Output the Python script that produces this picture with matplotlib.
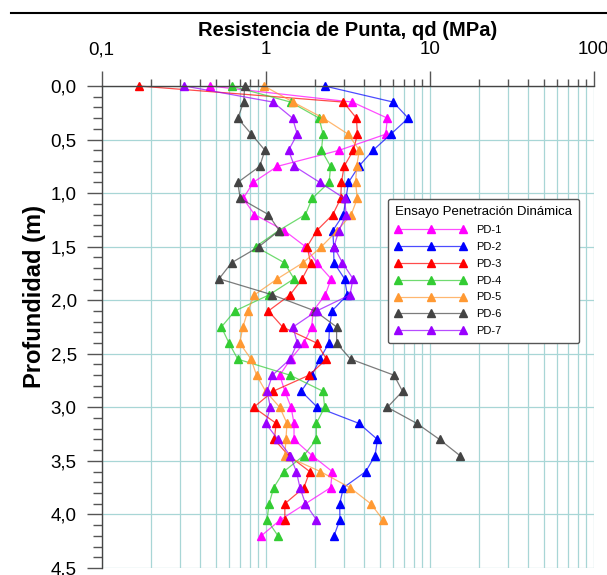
import matplotlib.pyplot as plt
from matplotlib.lines import Line2D
from matplotlib.ticker import LogLocator, MultipleLocator, NullFormatter

plt.rcParams['font.family'] = ['Liberation Sans', 'DejaVu Sans']

# Profundidad de cada lectura (m)
profundidad = [0.0, 0.15, 0.30, 0.45, 0.60, 0.75, 0.90, 1.05, 1.20, 1.35,
               1.50, 1.65, 1.80, 1.95, 2.10, 2.25, 2.40, 2.55, 2.70, 2.85,
               3.00, 3.15, 3.30, 3.45, 3.60, 3.75, 3.90, 4.05, 4.20]

# Resistencia de punta qd (MPa) por ensayo
pd1 = [0.46, 3.38, 5.53, 5.40, 2.81, 1.18, 0.84, 0.73, 0.855, 1.30,
       1.75, 2.05, 2.51, 2.31, 1.95, 1.91, 1.71, 1.42, 1.22, 1.31,
       1.43, 1.49, 1.49, 1.92, 2.55, 2.49, 1.75, 1.23, 0.94]
pd2 = [2.29, 6.00, 7.41, 5.80, 4.52, 3.70, 3.20, 3.09, 2.98, 2.57,
       2.60, 2.61, 3.03, 3.15, 2.54, 2.45, 2.43, 2.14, 1.92, 1.65,
       2.07, 3.71, 4.81, 4.65, 4.08, 2.98, 2.83, 2.84, 2.61]
pd3 = [0.169, 2.98, 3.58, 3.63, 3.43, 3.01, 2.90, 2.87, 2.57, 2.05,
       1.79, 1.88, 1.67, 1.41, 1.04, 1.27, 2.05, 2.35, 1.84, 1.11,
       0.846, 1.16, 1.13, 1.38, 1.86, 1.71, 1.31, 1.31]
pd4 = [0.62, 1.42, 2.12, 2.24, 2.19, 2.49, 2.44, 1.92, 1.75, 1.20,
       0.87, 1.30, 1.49, 1.05, 0.65, 0.537, 0.598, 0.676, 1.41, 2.24,
       2.29, 2.04, 2.04, 1.71, 1.29, 1.12, 1.05, 1.02, 1.19]
pd5 = [0.98, 1.47, 2.25, 3.19, 3.73, 3.59, 3.54, 3.62, 3.33, 2.73,
       2.19, 1.69, 1.18, 0.855, 0.78, 0.726, 0.695, 0.815, 0.88, 1.00,
       1.22, 1.35, 1.33, 1.31, 2.16, 3.27, 4.38, 5.20]
pd6 = [0.745, 0.735, 0.676, 0.82, 0.99, 0.92, 0.676, 0.70, 1.04, 1.21,
       0.91, 0.62, 0.52, 1.10, 2.00, 2.71, 2.71, 3.30, 6.07, 6.84,
       5.53, 8.36, 11.5, 15.3]
pd7 = [0.32, 1.11, 1.46, 1.56, 1.38, 1.50, 2.14, 3.03, 3.10, 2.80,
       2.61, 2.94, 3.41, 3.27, 2.05, 1.47, 1.56, 1.41, 1.10, 1.02,
       1.07, 1.00, 1.19, 1.41, 1.54, 1.62, 1.75, 2.04]

ensayos = ['PD-1', 'PD-2', 'PD-3', 'PD-4', 'PD-5', 'PD-6', 'PD-7']
series = [pd1, pd2, pd3, pd4, pd5, pd6, pd7]
colores = ['#ff00ff', '#0000ff', '#ff0000', '#33cc33', '#ff9933', '#444444', '#9900ff']

fig = plt.figure(figsize=(6.07, 5.75), dpi=100)
ax = fig.add_axes([0.1675, 0.0122, 0.8103, 0.8382])

for nombre, qd, c in zip(ensayos, series, colores):
    r, g, b = plt.matplotlib.colors.to_rgb(c)
    # linea algo mas clara que el marcador
    ax.plot(qd, profundidad[:len(qd)], color=(r, g, b, 0.7), lw=0.9,
            marker='^', ms=5.5, mfc=c, mec=c, label=nombre, clip_on=False)

ax.set_xscale('log')
ax.set_xlim(0.1, 100)
ax.set_ylim(4.5, 0)
ax.xaxis.tick_top()
ax.set_xticks([0.1, 1, 10, 100])
ax.set_xticklabels(['0,1', '1', '10', '100'])
ax.xaxis.set_minor_locator(LogLocator(base=10, subs=range(2, 10)))
ax.xaxis.set_minor_formatter(NullFormatter())

yt = [0.0, 0.5, 1.0, 1.5, 2.0, 2.5, 3.0, 3.5, 4.0, 4.5]
ax.set_yticks(yt)
ax.set_yticklabels([f'{v:.1f}'.replace('.', ',') for v in yt])
ax.yaxis.set_minor_locator(MultipleLocator(0.1))

tc = '#555555'
ax.tick_params(axis='x', which='major', direction='out', length=11, width=1,
               color=tc, pad=9, labelsize=13.5)
ax.tick_params(axis='x', which='minor', direction='out', length=5, width=1, color=tc)
ax.tick_params(axis='y', which='major', direction='out', length=11, width=1,
               color=tc, pad=7, labelsize=13.5)
ax.tick_params(axis='y', which='minor', direction='out', length=6.5, width=1, color=tc)

ax.grid(True, which='both', axis='x', color='#a8d6d6', lw=0.9)
ax.grid(True, which='major', axis='y', color='#a8d6d6', lw=0.9)
ax.set_axisbelow(True)

for s in ['right', 'bottom']:
    ax.spines[s].set_visible(False)
for s in ['top', 'left']:
    ax.spines[s].set_color('#444444')
    ax.spines[s].set_linewidth(1)

fig.text(0.5727, 1 - 31 / 575, 'Resistencia de Punta, qd (MPa)', ha='center',
         va='center', fontsize=14.5, fontweight='bold')
fig.text(35 / 607, 1 - 297 / 575, 'Profundidad (m)', ha='center', va='center',
         rotation=90, fontsize=17, fontweight='bold')

fig.add_artist(Line2D([11 / 607, 1.0], [1 - 13 / 575, 1 - 13 / 575],
                      transform=fig.transFigure, color='black', lw=1.5))

leg = ax.legend(title='Ensayo Penetración Dinámica', loc='upper left',
                bbox_to_anchor=(0.582, 0.766), borderaxespad=0, fontsize=8,
                title_fontsize=9.5, numpoints=3, handlelength=6.4,
                handletextpad=0.9, labelspacing=0.62, fancybox=True,
                edgecolor='#555555', framealpha=1, borderpad=0.65,
                alignment='left')
leg.get_frame().set_linewidth(1)

fig.savefig('out.png', dpi=100)
